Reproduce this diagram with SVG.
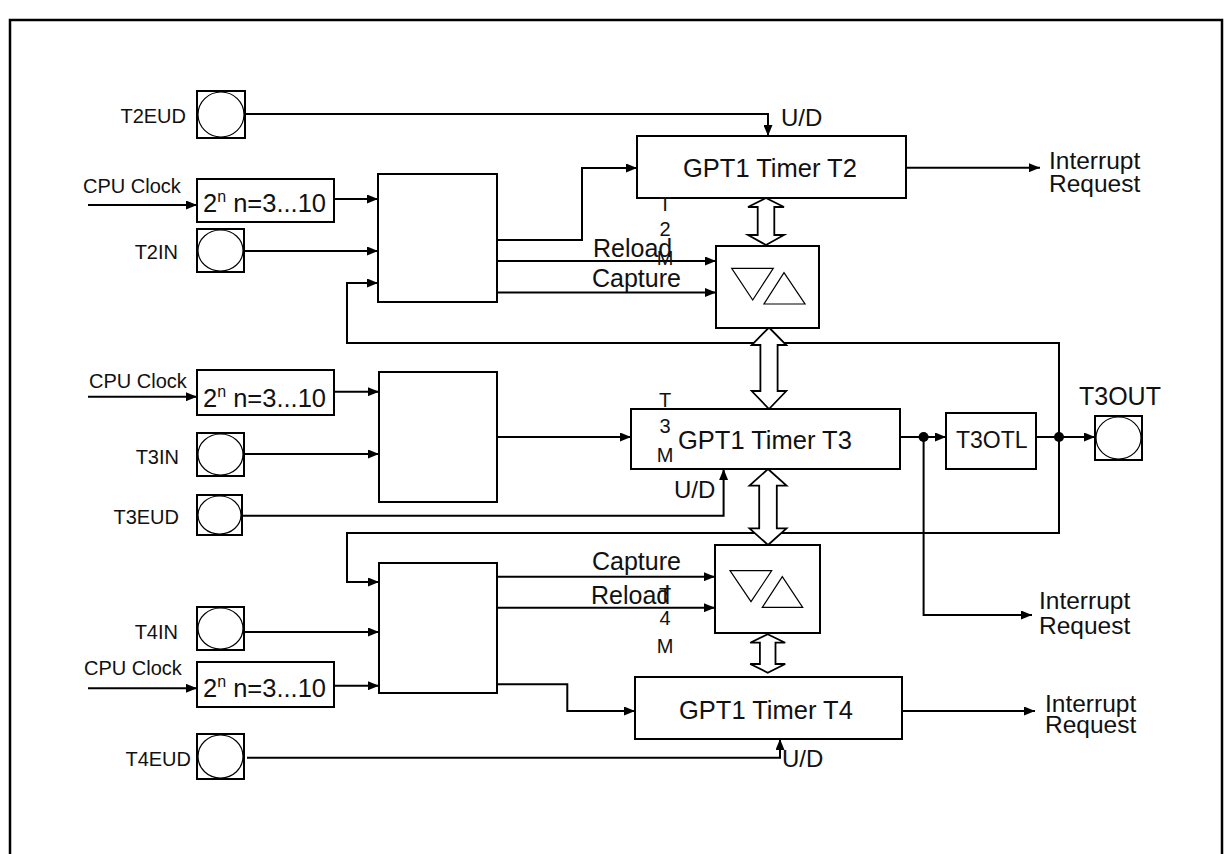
<svg xmlns="http://www.w3.org/2000/svg" width="1228" height="854" viewBox="0 0 1228 854">
<style>
.box{fill:#fff;stroke:#000;stroke-width:2}
.pinc{fill:none;stroke:#000;stroke-width:1.2}
.wire{fill:none;stroke:#000;stroke-width:2}
.big{fill:#fff;stroke:#000;stroke-width:1.8}
.tri{fill:none;stroke:#000;stroke-width:1.2}
.frame{fill:none;stroke:#000;stroke-width:2.5}
text{font-family:"Liberation Sans",Arial,Helvetica,sans-serif;fill:#111}
.lbl{font-size:20px}
.pin{font-size:20px;text-anchor:end}
.big-t{font-size:25.5px}
.sig{font-size:25px}
.ud{font-size:24px}
.irq{font-size:24.5px}
.vt{font-size:20px;text-anchor:middle}
</style>
<defs>
<marker id="ah" markerWidth="11" markerHeight="9" refX="11" refY="4.5" orient="auto" markerUnits="userSpaceOnUse"><path d="M0,0 L11,4.5 L0,9 z" fill="#000"/></marker>
</defs>
<path class="frame" d="M10,860 V20 H1222 V860"/>

<g id="connectors">
<path class="wire" marker-end="url(#ah)" d="M245,114 H768 V136"/>
<path class="wire" marker-end="url(#ah)" d="M88,205 H197"/>
<path class="wire" marker-end="url(#ah)" d="M334,199 H378"/>
<path class="wire" marker-end="url(#ah)" d="M244,251 H378"/>
<path class="wire" marker-end="url(#ah)" d="M1059,437 V343 H347 V283 H378"/>
<path class="wire" marker-end="url(#ah)" d="M1059,437 V533 H347 V582 H379"/>
<path class="wire" marker-end="url(#ah)" d="M497,240 H582 V168 H637"/>
<path class="wire" marker-end="url(#ah)" d="M497,261 H716"/>
<path class="wire" marker-end="url(#ah)" d="M497,292.5 H716"/>
<path class="wire" marker-end="url(#ah)" d="M88,396.7 H197"/>
<path class="wire" marker-end="url(#ah)" d="M334,391.7 H379"/>
<path class="wire" marker-end="url(#ah)" d="M244,454 H379"/>
<path class="wire" marker-end="url(#ah)" d="M497,437 H631"/>
<path class="wire" marker-end="url(#ah)" d="M242,515.7 H723.6 V469"/>
<path class="wire" marker-end="url(#ah)" d="M900,437 H946"/>
<path class="wire" marker-end="url(#ah)" d="M923.6,437 V615 H1032"/>
<path class="wire" marker-end="url(#ah)" d="M1036,437 H1095"/>
<path class="wire" marker-end="url(#ah)" d="M906,167.7 H1040"/>
<path class="wire" marker-end="url(#ah)" d="M497,576.7 H715"/>
<path class="wire" marker-end="url(#ah)" d="M497,607.7 H715"/>
<path class="wire" marker-end="url(#ah)" d="M244,632 H379"/>
<path class="wire" marker-end="url(#ah)" d="M88,688.3 H197"/>
<path class="wire" marker-end="url(#ah)" d="M334,685.7 H379"/>
<path class="wire" marker-end="url(#ah)" d="M497,684.3 H567.3 V711 H635"/>
<path class="wire" marker-end="url(#ah)" d="M247,757.7 H780 V739"/>
<path class="wire" marker-end="url(#ah)" d="M902,711 H1035"/>
<circle cx="923.6" cy="437" r="5" fill="#000"/>
<circle cx="1059" cy="437" r="5" fill="#000"/>
<polygon class="big" points="766,198 784,207 774.3,207 774.3,235 784,235 766,245 748,235 757.7,235 757.7,207 748,207"/>
<polygon class="big" points="769,327.5 786.3,345 777.6,345 777.6,391 786.3,391 769,409 751.7,391 760.4,391 760.4,345 751.7,345"/>
<polygon class="big" points="768,469 786.5,485.7 776.8,485.7 776.8,528.3 786.5,528.3 768,545 749.5,528.3 759.2,528.3 759.2,485.7 749.5,485.7"/>
<polygon class="big" points="767.7,634.3 785.2,642.7 775.5,642.7 775.5,664 785.2,664 767.7,672.7 750.2,664 759.9,664 759.9,642.7 750.2,642.7"/>
</g>

<g id="pin-t2eud"><rect class="box" x="197" y="91" width="48" height="47"/><ellipse class="pinc" cx="221" cy="114.5" rx="23" ry="22.5"/><text class="pin" x="186" y="123">T2EUD</text></g>
<g id="pin-t2in"><rect class="box" x="197" y="229" width="47" height="43"/><ellipse class="pinc" cx="220.5" cy="250.5" rx="22.5" ry="20.5"/><text class="pin" x="178" y="259">T2IN</text></g>
<g id="pin-t3in"><rect class="box" x="197" y="433" width="47" height="43"/><ellipse class="pinc" cx="220.5" cy="454.5" rx="22.5" ry="20.5"/><text class="pin" x="179" y="464">T3IN</text></g>
<g id="pin-t3eud"><rect class="box" x="197" y="495" width="45" height="40"/><ellipse class="pinc" cx="219.5" cy="515" rx="21.5" ry="19"/><text class="pin" x="179" y="524">T3EUD</text></g>
<g id="pin-t4in"><rect class="box" x="197" y="607" width="47" height="43"/><ellipse class="pinc" cx="220.5" cy="628.5" rx="22.5" ry="20.5"/><text class="pin" x="178" y="639">T4IN</text></g>
<g id="pin-t4eud"><rect class="box" x="197" y="734" width="47" height="45"/><ellipse class="pinc" cx="220.5" cy="756.5" rx="22.5" ry="21.5"/><text class="pin" x="191" y="766">T4EUD</text></g>
<g id="pin-t3out"><rect class="box" x="1095" y="416" width="47" height="44"/><ellipse class="pinc" cx="1118.5" cy="438" rx="22.5" ry="21"/><text class="sig" x="1079" y="405">T3OUT</text></g>

<g id="clk1"><text class="lbl" x="83" y="193">CPU Clock</text></g>
<g id="clk2"><text class="lbl" x="89" y="388">CPU Clock</text></g>
<g id="clk3"><text class="lbl" x="84" y="675">CPU Clock</text></g>

<g id="pre1"><rect class="box" x="197" y="179" width="137" height="43"/><text class="sig" x="203" y="212" style="font-size:25.5px">2<tspan dy="-10" style="font-size:16px">n</tspan><tspan dy="10"> n=3...10</tspan></text></g>
<g id="pre2"><rect class="box" x="197" y="370" width="137" height="45"/><text class="sig" x="203" y="406.7" style="font-size:25.5px">2<tspan dy="-10" style="font-size:16px">n</tspan><tspan dy="10"> n=3...10</tspan></text></g>
<g id="pre3"><rect class="box" x="197" y="662" width="137" height="45"/><text class="sig" x="203" y="697.3" style="font-size:25.5px">2<tspan dy="-10" style="font-size:16px">n</tspan><tspan dy="10"> n=3...10</tspan></text></g>

<g id="mux1"><rect class="box" x="378" y="174" width="119" height="128"/></g>
<g id="mux2"><rect class="box" x="379" y="372" width="118" height="130"/></g>
<g id="mux3"><rect class="box" x="379" y="563" width="118" height="130"/></g>

<g id="timer-t2"><rect class="box" x="637" y="136" width="269" height="62"/><text class="big-t" x="683" y="177">GPT1 Timer T2</text></g>
<g id="timer-t3"><rect class="box" x="631" y="409" width="269" height="60"/><text class="big-t" x="678" y="449">GPT1 Timer T3</text></g>
<g id="timer-t4"><rect class="box" x="635" y="677" width="267" height="62"/><text class="big-t" x="679" y="719">GPT1 Timer T4</text></g>

<g id="cmp1"><rect class="box" x="716" y="246" width="103" height="82"/><polygon class="tri" points="731.7,268.3 773.3,268.3 752.7,300"/><polygon class="tri" points="764,304 805,304 784,272.7"/></g>
<g id="cmp2"><rect class="box" x="715" y="545" width="105" height="88"/><polygon class="tri" points="730,570.7 771.7,570.7 751,601.7"/><polygon class="tri" points="762.3,607.3 802.7,607.3 782.3,576.7"/></g>

<g id="t3otl"><rect class="box" x="946" y="413" width="90" height="56"/><text class="sig" x="956" y="448" style="font-size:23px">T3OTL</text></g>

<g id="labels">
<text class="ud" x="781" y="126">U/D</text>
<text class="ud" x="674" y="498">U/D</text>
<text class="ud" x="782" y="767">U/D</text>
<text class="sig" x="593" y="257">Reload</text>
<text class="sig" x="592" y="287">Capture</text>
<text class="sig" x="592" y="570">Capture</text>
<text class="sig" x="591" y="604">Reload</text>
<text class="vt" x="665" y="211">T</text>
<text class="vt" x="665" y="236">2</text>
<text class="vt" x="665" y="265">M</text>
<text class="vt" x="665" y="407">T</text>
<text class="vt" x="665" y="433">3</text>
<text class="vt" x="665" y="462">M</text>
<text class="vt" x="665" y="602">T</text>
<text class="vt" x="665" y="625">4</text>
<text class="vt" x="665" y="653">M</text>
<text class="irq" x="1049" y="169">Interrupt</text>
<text class="irq" x="1049" y="192">Request</text>
<text class="irq" x="1039" y="609">Interrupt</text>
<text class="irq" x="1039" y="634">Request</text>
<text class="irq" x="1045" y="712">Interrupt</text>
<text class="irq" x="1045" y="733">Request</text>
</g>
</svg>
